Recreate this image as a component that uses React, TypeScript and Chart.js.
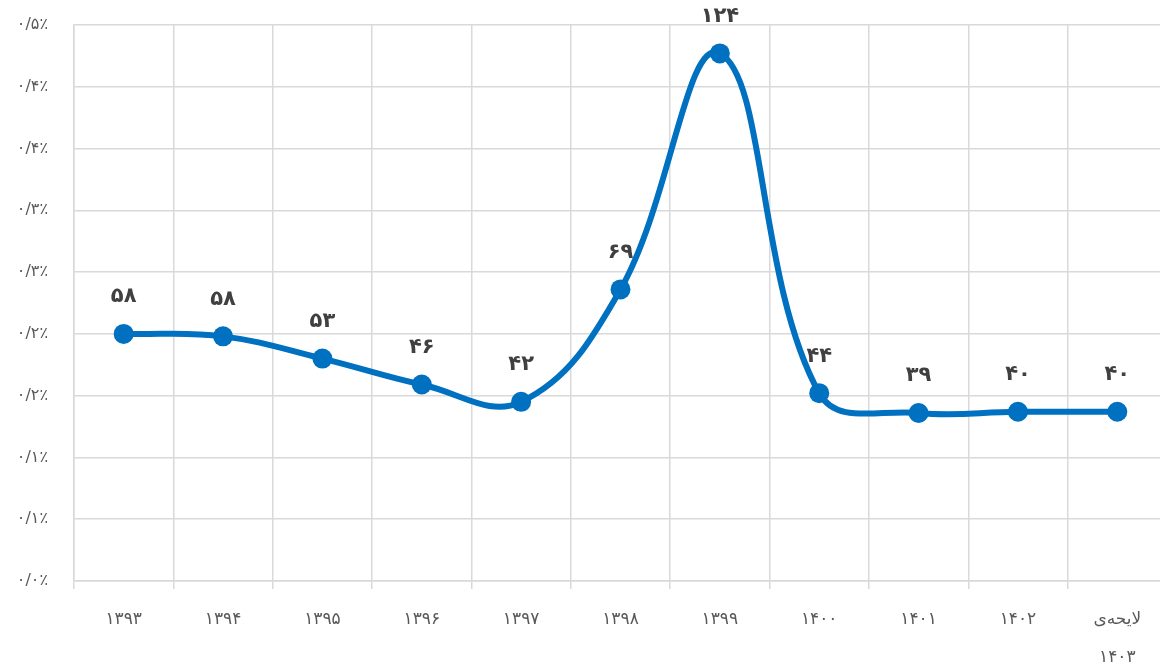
import React, { useEffect, useRef } from "react";
import { Chart, registerables } from "chart.js";

Chart.register(...registerables);

const categories: (string | string[])[] = [
  "۱۳۹۳", "۱۳۹۴", "۱۳۹۵", "۱۳۹۶", "۱۳۹۷", "۱۳۹۸", "۱۳۹۹", "۱۴۰۰", "۱۴۰۱", "۱۴۰۲", ["لایحه‌ی", "۱۴۰۳"],
];
const values: number[] = [0.2, 0.198, 0.18, 0.159, 0.145, 0.236, 0.427, 0.152, 0.136, 0.137, 0.137];
const pointLabels: string[] = ["۵۸", "۵۸", "۵۳", "۴۶", "۴۲", "۶۹", "۱۲۴", "۴۴", "۳۹", "۴۰", "۴۰"];
const yTickLabels: string[] = ["۰/۰٪", "۰/۱٪", "۰/۱٪", "۰/۲٪", "۰/۲٪", "۰/۳٪", "۰/۳٪", "۰/۴٪", "۰/۴٪", "۰/۵٪"];

const FONT = "'DejaVu Sans', sans-serif";

const labelPlugin = {
  id: "pointLabels",
  afterDatasetsDraw(chart: any) {
    const ctx = chart.ctx;
    const meta = chart.getDatasetMeta(0);
    ctx.save();
    ctx.font = `bold 21px ${FONT}`;
    ctx.fillStyle = "#404040";
    ctx.textAlign = "center";
    ctx.textBaseline = "middle";
    meta.data.forEach((pt: any, i: number) => {
      ctx.fillText(pointLabels[i], pt.x, pt.y - 37);
    });
    ctx.restore();
  },
};

export default function App() {
  const ref = useRef<HTMLCanvasElement>(null);
  useEffect(() => {
    if (!ref.current) return;
    const chart = new Chart(ref.current, {
      type: "line",
      data: {
        labels: categories,
        datasets: [
          {
            data: values,
            borderColor: "#0070C0",
            backgroundColor: "#0070C0",
            borderWidth: 6,
            pointRadius: 10,
            pointHoverRadius: 10,
            pointBackgroundColor: "#0070C0",
            pointBorderWidth: 0,
            tension: 0.4,
            fill: false,
          },
        ],
      },
      options: {
        animation: false,
        responsive: false,
        maintainAspectRatio: false,
        layout: { padding: { top: 25, right: 0, bottom: 0, left: 0 } },
        plugins: { legend: { display: false }, tooltip: { enabled: false } },
        scales: {
          x: {
            offset: true,
            grid: {
              offset: true,
              color: "#d9d9d9",
              lineWidth: 1.5,
              drawTicks: true,
              tickLength: 8,
            },
            border: { color: "#d9d9d9", width: 1.5 },
            ticks: {
              color: "#595959",
              font: { family: FONT, size: 17, lineHeight: 2.2 },
              padding: 12,
              maxRotation: 0,
              autoSkip: false,
            },
            afterFit(scale: any) {
              scale.height = 87;
              scale.paddingLeft = 0;
              scale.paddingRight = 0;
            },
          },
          y: {
            min: 0,
            max: 0.45,
            grid: { color: "#d9d9d9", lineWidth: 1.5, drawTicks: false },
            border: { color: "#d9d9d9", width: 1.5 },
            ticks: {
              stepSize: 0.05,
              color: "#595959",
              font: { family: FONT, size: 16 },
              padding: 26,
              callback: (_v: any, i: number) => yTickLabels[i],
            },
            afterFit(scale: any) {
              scale.width = 74;
              scale.paddingTop = 0;
              scale.paddingBottom = 0;
            },
          },
        },
      },
      plugins: [labelPlugin],
    });
    return () => chart.destroy();
  }, []);
  return (
    <div style={{ position: "fixed", left: 0, top: 0, width: 1177, height: 668, background: "#fff" }}>
      <canvas ref={ref} width={1177} height={668} style={{ display: "block" }} />
    </div>
  );
}
